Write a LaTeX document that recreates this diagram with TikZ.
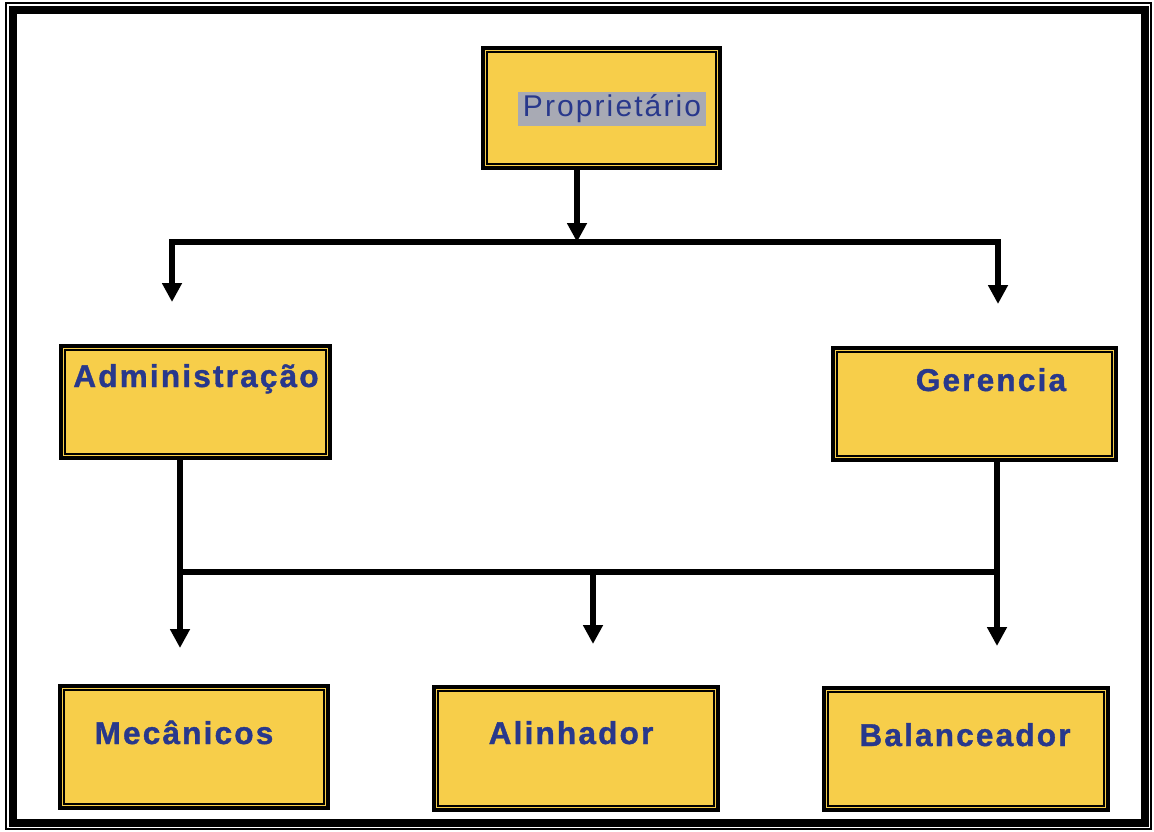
\documentclass[tikz,border=0pt]{standalone}
\usepackage{fontspec}
\setmainfont{Liberation Sans}
\newfontfamily\boxfont[LetterSpace=7]{Liberation Sans}
\newfontfamily\boxboldfont[LetterSpace=7,FakeBold=1.2]{Liberation Sans Bold}
\usetikzlibrary{arrows.meta}
\definecolor{boxyellow}{RGB}{247,206,74}
\definecolor{textblue}{RGB}{40,56,140}
\definecolor{markgray}{RGB}{168,170,180}
\tikzset{
  orgbox/.style={draw=black,line width=3.5pt,fill=boxyellow,inner sep=0pt},
  innerline/.style={draw=black,line width=2pt},
  boxtext/.style={text=textblue,font=\boxboldfont\fontsize{31.5}{31.5}\selectfont,anchor=base},
  link/.style={line width=5.5pt},
  arrow/.style={link,-{Triangle[width=19pt,length=19pt]}}
}
\begin{document}
\begin{tikzpicture}[x=1pt,y=-1pt,line cap=rect,line join=miter]
\useasboundingbox (0,0) rectangle (1154,832);
% outer frame
\draw[line width=1.5pt] (6,3) rectangle (1151,829);
\draw[line width=8pt] (13,10) rectangle (1145,823);
% boxes
\node[orgbox,minimum width=237,minimum height=120] (prop) at (601.5,108) {};
\node[orgbox,minimum width=269,minimum height=112] (adm) at (195.5,402) {};
\node[orgbox,minimum width=283,minimum height=112] (ger) at (974.5,404) {};
\node[orgbox,minimum width=268,minimum height=122] (mec) at (194,747) {};
\node[orgbox,minimum width=284,minimum height=123] (ali) at (576,748.5) {};
\node[orgbox,minimum width=284,minimum height=122] (bal) at (966,749) {};
\foreach \b in {prop,adm,ger,mec,ali,bal}
  \draw[innerline] ([shift={(6pt,-6pt)}]\b.north west) rectangle ([shift={(-6pt,6pt)}]\b.south east);
% texts
\node[fill=markgray,text=textblue,inner xsep=5pt,inner ysep=3pt,
  font=\boxfont\fontsize{30}{30}\selectfont] (proptxt) at (612,109) {Proprietário};
\node[boxtext] (admtxt) at (196,387) {Administração};
\node[boxtext] (gertxt) at (991,391) {Gerencia};
\node[boxtext] (mectxt) at (184,744) {Mecânicos};
\node[boxtext] (alitxt) at (571,744) {Alinhador};
\node[boxtext] (baltxt) at (965,746) {Balanceador};
% connectors
\coordinate (top) at (577,242);
\coordinate (topl) at (172,242);
\coordinate (topr) at (998,242);
\coordinate (admend) at (172,302);
\coordinate (gerend) at (998,304);
\coordinate (low) at (593,572);
\coordinate (lowl) at (180,572);
\coordinate (lowr) at (997,572);
\coordinate (mecend) at (180,648);
\coordinate (aliend) at (593,644);
\coordinate (balend) at (997,646);
\draw[arrow] (prop.south -| top) -- (top);
\draw[link] (topl) -- (topr);
\draw[arrow] (topl) -- (admend);
\draw[arrow] (topr) -- (gerend);
\draw[link] (adm.south -| lowl) -- (lowl) -- (lowr) -- (ger.south -| lowr);
\draw[arrow] (lowl) -- (mecend);
\draw[arrow] (low) -- (aliend);
\draw[arrow] (lowr) -- (balend);
\end{tikzpicture}
\end{document}
